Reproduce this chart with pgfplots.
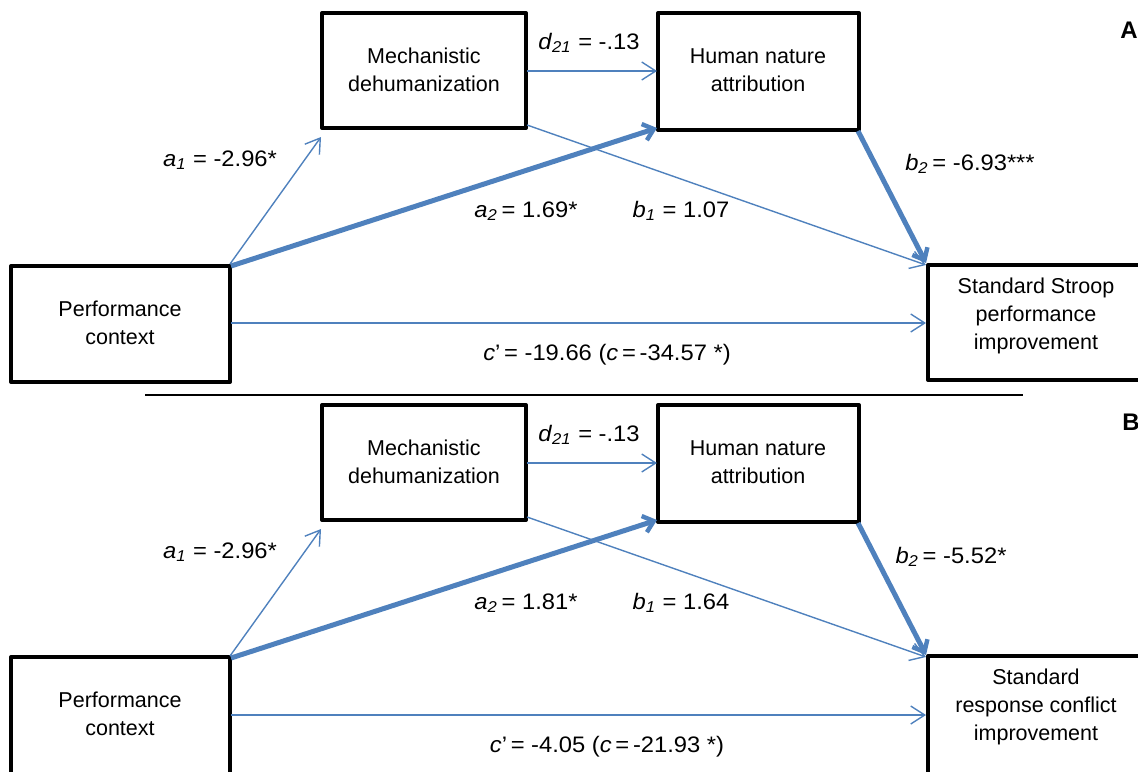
\documentclass[border=0pt]{standalone}
\usepackage{pgfplots}
\pgfplotsset{compat=1.18}
\usepackage{fontspec}
\setmainfont{Liberation Sans}
\newfontfamily\widefont[FakeStretch=1.06]{Liberation Sans}
\usetikzlibrary{arrows.meta}
\definecolor{pathblue}{HTML}{4F81BD}
\newcommand{\lbl}{\fontsize{10.75}{14.2}\selectfont}
\newcommand{\plbl}{\widefont\fontsize{11.2}{14}\selectfont}
\newcommand{\iv}[2]{\textit{#1}\textsubscript{\textit{#2}}}
\begin{document}
\begin{tikzpicture}
\begin{axis}[
  scale only axis, width=569pt, height=385.5pt,
  xmin=0, xmax=1138, ymin=0, ymax=771, y dir=reverse,
  hide axis, clip=true,
  box/.style={black, line width=2pt, line join=round, no marks},
  thinarrow/.style={pathblue, line width=0.7pt, no marks, -{Straight Barb[length=7pt,width=9pt,line width=0.7pt]}},
  thickarrow/.style={pathblue, line width=2.5pt, no marks, -{Straight Barb[length=5pt,width=8.5pt,line width=2.2pt]}},
]
% ---------------- Panel A ----------------
\addplot[box] coordinates {(322,13) (526,13) (526,128) (322,128) (322,13) (526,13)};
\addplot[box] coordinates {(658,13) (859,13) (859,130) (658,130) (658,13) (859,13)};
\addplot[box] coordinates {(11,266) (230,266) (230,382) (11,382) (11,266) (230,266)};
\addplot[box] coordinates {(1140,265) (928,265) (928,380) (1140,380)};
\addplot[thinarrow] coordinates {(230,264) (321,137)};
\addplot[thinarrow] coordinates {(527,71) (657,71)};
\addplot[thinarrow] coordinates {(527,125) (926,265)};
\addplot[thinarrow] coordinates {(231,323) (926,323)};
\addplot[thickarrow] coordinates {(231,266) (657,128)};
\addplot[thickarrow] coordinates {(858,131) (926,263)};
\addplot[black, line width=0.75pt, no marks] coordinates {(145,395) (1023,395)};
\node[align=center, font=\lbl] at (axis cs:424,70) {Mechanistic\\dehumanization};
\node[align=center, font=\lbl] at (axis cs:758,70) {Human nature\\attribution};
\node[align=center, font=\lbl] at (axis cs:120,323) {Performance\\context};
\node[align=center, font=\lbl] at (axis cs:1036,316) {Standard Stroop\\performance\\improvement};
\node[font=\plbl] at (axis cs:220,160) {\iv{a}{1} = -2.96*};
\node[font=\plbl] at (axis cs:589,43) {\iv{d}{21} = -.13};
\node[font=\plbl] at (axis cs:526,211) {\iv{a}{2}\,= 1.69*};
\node[font=\plbl] at (axis cs:681,211) {\iv{b}{1} = 1.07};
\node[font=\plbl] at (axis cs:970,164) {\iv{b}{2}\,= -6.93***};
\node[font=\plbl] at (axis cs:607,355) {\textit{c}’\,= -19.66 (\textit{c}\,=\,-34.57 *)};
\node[font=\fontsize{12}{14}\selectfont\bfseries] at (axis cs:1129,30) {A};
% ---------------- Panel B ----------------
\addplot[box] coordinates {(322,405) (526,405) (526,520) (322,520) (322,405) (526,405)};
\addplot[box] coordinates {(658,405) (859,405) (859,522) (658,522) (658,405) (859,405)};
\addplot[box] coordinates {(230,775) (230,657) (11,657) (11,775)};
\addplot[box] coordinates {(1140,656) (928,656) (928,775)};
\addplot[thinarrow] coordinates {(230,656) (321,529)};
\addplot[thinarrow] coordinates {(527,463) (657,463)};
\addplot[thinarrow] coordinates {(527,517) (926,657)};
\addplot[thinarrow] coordinates {(231,715) (926,715)};
\addplot[thickarrow] coordinates {(231,658) (657,520)};
\addplot[thickarrow] coordinates {(858,523) (926,655)};
\node[align=center, font=\lbl] at (axis cs:424,462) {Mechanistic\\dehumanization};
\node[align=center, font=\lbl] at (axis cs:758,462) {Human nature\\attribution};
\node[align=center, font=\lbl] at (axis cs:120,714) {Performance\\context};
\node[align=center, font=\lbl] at (axis cs:1036,707) {Standard\\response conflict\\improvement};
\node[font=\plbl] at (axis cs:220,552) {\iv{a}{1} = -2.96*};
\node[font=\plbl] at (axis cs:589,435) {\iv{d}{21} = -.13};
\node[font=\plbl] at (axis cs:526,603) {\iv{a}{2}\,= 1.81*};
\node[font=\plbl] at (axis cs:681,603) {\iv{b}{1} = 1.64};
\node[font=\plbl] at (axis cs:951,557) {\iv{b}{2}\,= -5.52*};
\node[font=\plbl] at (axis cs:607,747) {\textit{c}’\,= -4.05 (\textit{c}\,=\,-21.93 *)};
\node[font=\fontsize{12}{14}\selectfont\bfseries] at (axis cs:1131,422) {B};
\end{axis}
\pgfresetboundingbox
\useasboundingbox (current axis.south west) rectangle (current axis.north east);
\end{tikzpicture}
\end{document}
